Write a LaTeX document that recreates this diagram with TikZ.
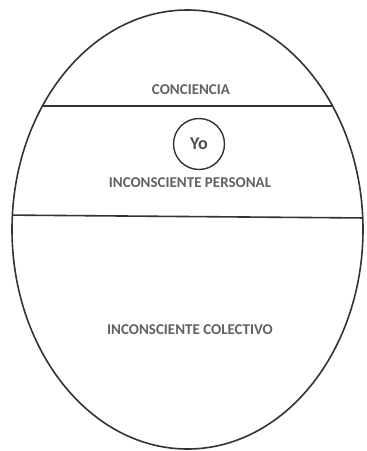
\documentclass[tikz,border=0pt]{standalone}
\usepackage{fontspec}
\setmainfont{Carlito}
\usetikzlibrary{shapes.geometric}
\begin{document}
\begin{tikzpicture}[x=1pt,y=-1pt,
  outline/.style={draw=black!80,line width=1.6pt},
  label/.style={font=\bfseries\fontsize{15}{17}\selectfont, text=black!62, inner sep=0pt},
  ego/.style={circle, draw=black!80, line width=1.4pt, minimum size=51pt, inner sep=0pt, font=\bfseries\fontsize{18}{20}\selectfont, text=black!70}]
\useasboundingbox (0,0) rectangle (367,451);
\begin{scope}
  \clip (187.5,229.5) ellipse [x radius=175.5, y radius=219.5];
  \coordinate (l1a) at (0,106);
  \coordinate (l1b) at (367,106);
  \coordinate (l2a) at (0,215);
  \coordinate (l2b) at (367,218);
  \draw[outline] (l1a) -- (l1b);
  \draw[outline] (l2a) -- (l2b);
\end{scope}
\node[outline, ellipse, minimum width=351pt, minimum height=439pt, inner sep=0pt] (egg) at (187.5,229.5) {};
\node[label] (conc) at (191,90) {CONCIENCIA};
\node[ego] (yo) at (199,144) {Yo};
\node[label] (pers) at (190,183) {INCONSCIENTE PERSONAL};
\node[label] (col) at (190,330) {INCONSCIENTE COLECTIVO};
\end{tikzpicture}
\end{document}
